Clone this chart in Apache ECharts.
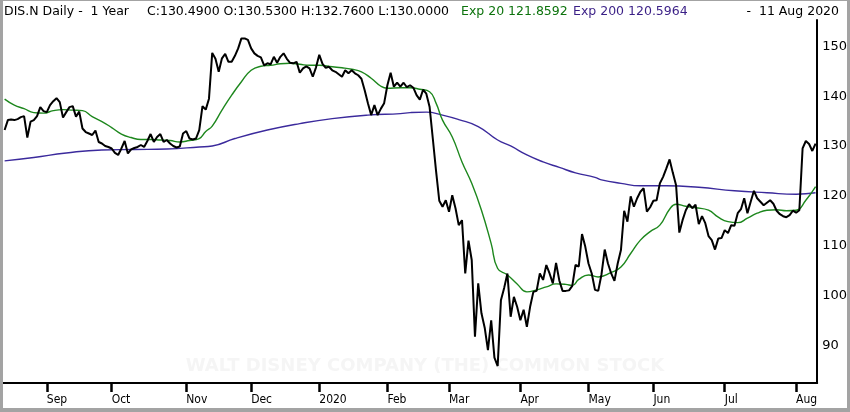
<!DOCTYPE html>
<html>
<head>
<meta charset="utf-8">
<script src="https://cdn.jsdelivr.net/npm/echarts@6/dist/echarts.min.js"></script>
<style>
  html, body { margin: 0; padding: 0; background: #fff; }
  #wrap { position: relative; width: 850px; height: 412px; }
  #chart { position: absolute; left: 0; top: 0; width: 850px; height: 412px; }
  #frame { position: absolute; left: 0; top: 0; width: 850px; height: 412px; box-sizing: border-box;
           border-style: solid; border-color: #a3a3a3; border-width: 1px 3px 4px 3px; pointer-events: none; }
</style>
</head>
<body>
<div id="wrap"><div id="chart"></div><div id="frame"></div></div>
<script>
// Daily closes, 14 Aug 2019 .. 11 Aug 2020 (one per trading day)
const closes = [
133.2,135.2,135.3,135.2,135.4,135.8,136.0,131.7,134.9,135.2,
136.0,137.8,137.0,136.8,138.2,139.0,139.6,138.8,135.7,136.8,
137.8,138.0,135.9,136.9,133.5,132.8,132.5,132.2,133.1,130.8,
130.5,130.0,129.8,129.5,128.6,128.2,129.5,131.0,128.5,129.3,
129.6,129.8,130.2,129.8,131.0,132.4,130.8,131.8,132.4,130.8,
131.2,130.5,130.0,129.7,129.9,132.5,133.0,131.5,131.3,131.5,
133.2,138.0,137.3,139.5,148.7,147.5,144.9,147.6,148.5,146.9,
146.9,148.1,149.6,151.6,151.6,151.3,149.6,148.6,148.1,147.8,
146.2,146.6,146.4,147.9,146.7,147.9,148.6,147.5,146.7,146.6,
146.9,144.7,145.6,146.0,145.6,143.9,145.8,148.3,146.5,145.7,
145.9,145.2,144.9,144.4,143.9,145.2,144.6,145.2,144.6,144.2,
143.5,141.2,138.6,136.2,138.2,136.2,137.5,138.6,142.2,144.7,
141.9,142.7,141.9,142.7,141.8,142.2,141.7,140.2,139.3,141.3,
140.5,137.9,131.5,125.0,119.0,117.8,119.1,116.8,120.1,117.5,
114.1,115.1,104.4,111.0,107.1,91.7,102.4,96.4,93.5,89.0,
95.0,87.5,85.8,99.0,101.5,104.4,95.7,99.7,97.7,95.0,
97.1,93.7,97.7,100.7,100.9,104.4,103.1,106.1,104.4,102.4,
106.5,103.0,100.9,100.9,101.0,101.9,106.1,105.8,112.3,109.8,
106.4,104.4,101.1,100.9,104.2,109.2,106.4,104.4,102.9,106.4,
109.1,117.0,114.8,119.9,117.8,119.5,120.8,121.5,116.8,117.7,
119.0,119.1,122.5,123.8,125.5,127.3,124.6,122.1,112.6,115.1,
117.1,118.3,117.5,118.2,114.3,115.9,114.5,111.9,111.1,109.2,
111.4,111.5,113.1,112.5,114.1,114.0,116.5,117.3,119.5,116.5,
118.8,121.0,119.5,118.8,118.1,118.6,119.1,118.4,117.0,116.3,
115.9,115.7,116.1,117.0,116.6,117.1,129.5,131.0,130.4,129.0,
130.49
];

// Exp 20 line, read at sampled trading-day positions [dayIndex, value]
const ema20Idx = [0,3,6,9,12,15,18,21,24,27,30,33,36,39,42,45,48,51,54,57,60,62,64,67,70,73,76,79,82,85,88,91,94,97,101,104,107,110,113,116,118,122,125,128,131,133,135,138,141,144,147,150,152,155,158,161,164,167,170,173,175,177,180,183,187,190,193,196,199,202,205,207,210,213,217,220,223,226,229,232,235,238,241,244,247,250];
const ema20Val = [139.4,138.2,137.5,136.7,136.6,137.1,137.3,137.2,137.1,135.9,134.9,133.7,132.4,131.7,131.3,131.3,131.2,131.1,130.8,131.1,131.5,132.9,134.0,137.2,140.2,142.9,145.2,146.0,146.2,146.5,146.6,146.4,146.2,146.2,145.9,145.7,145.4,144.9,143.6,142.0,141.6,141.7,141.7,141.4,140.9,138.6,135.2,131.8,126.8,122.5,117.1,110.4,105.4,104.1,102.3,100.7,101.1,101.7,102.3,102.2,102.0,103.2,104.1,103.7,104.6,105.7,108.4,111.1,112.8,114.1,117.3,118.3,117.9,117.6,117.1,115.7,114.8,114.6,115.5,116.5,117.1,117.2,117.0,117.1,119.1,121.8592];

// Exp 200 line, sampled
const ema200Idx = [0,9,19,30,40,50,60,64,71,81,91,101,112,122,125,130,135,140,146,152,156,161,166,171,176,182,184,190,196,204,214,225,235,244,250];
const ema200Val = [127.0,127.7,128.6,129.2,129.3,129.4,129.8,130.0,131.5,133.2,134.5,135.5,136.2,136.5,136.7,136.8,136.2,135.3,133.9,131.2,130.0,128.2,126.8,125.7,124.6,123.7,123.2,122.5,122.0,122.0,121.7,121.0,120.6,120.3,120.5964];

// Month ticks: first trading day index of each month, and their labels
const monthTickIdx = [13,33,56,76,97,118,137,159,180,200,222,244];
const monthTickLabels = ['Sep','Oct','Nov','Dec','2020','Feb','Mar','Apr','May','Jun','Jul','Aug'];

const yTicks = [90,100,110,120,130,140,150];

const categories = closes.map((_, i) => i);
const ema20Data = ema20Idx.map((d, i) => [d, ema20Val[i]]);
const ema200Data = ema200Idx.map((d, i) => [d, ema200Val[i]]);

const chart = echarts.init(document.getElementById('chart'), null, { renderer: 'canvas' });
const hdrFont = 'DejaVu Sans';
const hdrSize = 12.5;
chart.setOption({
  animation: false,
  backgroundColor: '#ffffff',
  grid: { left: 3, right: 32, top: 20, bottom: 29, containLabel: false },
  xAxis: {
    type: 'category',
    data: categories,
    boundaryGap: true,
    axisLine: { show: true, lineStyle: { color: '#000', width: 2 } },
    axisTick: {
      show: true, alignWithLabel: true, length: 9, inside: false,
      lineStyle: { color: '#000', width: 2.5 },
      interval: (idx) => monthTickIdx.includes(idx)
    },
    axisLabel: {
      show: true, align: 'left', margin: 11,
      color: '#000', fontSize: 12, fontFamily: 'DejaVu Sans Condensed, DejaVu Sans',
      interval: (idx) => monthTickIdx.includes(idx),
      formatter: (val, idx) => {
        const k = monthTickIdx.indexOf(Number(val));
        return k >= 0 ? monthTickLabels[k] : '';
      }
    },
    splitLine: { show: false }
  },
  yAxis: {
    type: 'value',
    position: 'right',
    min: 82.4,
    max: 155.3,
    axisLine: { show: true, lineStyle: { color: '#000', width: 2 } },
    axisTick: { show: false },
    splitLine: { show: false },
    axisLabel: {
      customValues: yTicks,
      color: '#000', fontSize: 13, margin: 5, fontFamily: 'DejaVu Sans'
    }
  },
  graphic: [
    { type: 'text', z: 0, left: 'center', top: 357,
      style: { text: 'WALT DISNEY COMPANY (THE) COMMON STOCK', fill: '#f5f5f5',
               font: 'bold 18px DejaVu Sans' } },
    { type: 'text', x: 4, y: 12, style: { text: 'DIS.N Daily -  1 Year', fill: '#000', fontSize: hdrSize, fontFamily: hdrFont, verticalAlign: 'middle' } },
    { type: 'text', x: 147, y: 12, style: { text: 'C:130.4900 O:130.5300 H:132.7600 L:130.0000', fill: '#000', fontSize: hdrSize, fontFamily: hdrFont, verticalAlign: 'middle' } },
    { type: 'text', x: 461, y: 12, style: { text: 'Exp 20 121.8592', fill: '#0d730d', fontSize: hdrSize, fontFamily: hdrFont, verticalAlign: 'middle' } },
    { type: 'text', x: 573, y: 12, style: { text: 'Exp 200 120.5964', fill: '#3a1f86', fontSize: hdrSize, fontFamily: hdrFont, verticalAlign: 'middle' } },
    { type: 'text', x: 839, y: 12, style: { text: '-  11 Aug 2020', fill: '#000', fontSize: hdrSize, fontFamily: hdrFont, verticalAlign: 'middle', align: 'right' } }
  ],
  series: [
    { name: 'Exp 200', type: 'line', data: ema200Data, showSymbol: false, smooth: true,
      lineStyle: { color: '#3b2a9c', width: 1.4 }, z: 2 },
    { name: 'Exp 20', type: 'line', data: ema20Data, showSymbol: false, smooth: true,
      lineStyle: { color: '#1d871d', width: 1.4 }, z: 3 },
    { name: 'DIS.N', type: 'line', data: closes, showSymbol: false,
      lineStyle: { color: '#000', width: 2 }, z: 4 }
  ]
});
</script>
</body>
</html>
